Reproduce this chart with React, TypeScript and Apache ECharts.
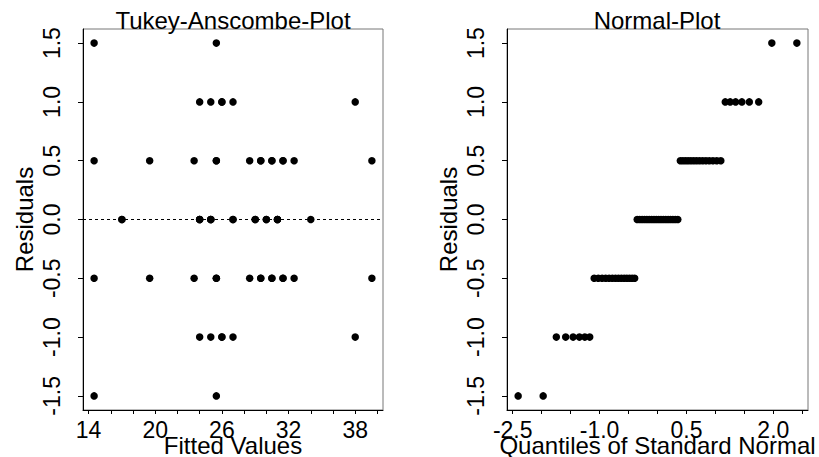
import React, { useEffect, useRef } from "react";
import * as echarts from "echarts";

// Fitted values and residuals of the 62 observations (some coincide on screen).
const fittedValues = [
  14.5, 25.5,
  24, 25, 26, 26, 27, 38,
  14.5, 19.5, 23.5, 25.5, 25.5, 28.5, 29.5, 29.5, 30.5, 30.5, 31.5, 31.5, 32.5, 39.5,
  17, 17, 24, 24, 24, 25, 25, 25, 27, 27, 29, 29, 30, 30, 31, 31, 31, 34,
  14.5, 19.5, 23.5, 25.5, 25.5, 28.5, 29.5, 29.5, 30.5, 30.5, 31.5, 31.5, 32.5, 39.5,
  24, 25, 26, 26, 27, 38,
  14.5, 25.5,
];
const residuals = [
  1.5, 1.5,
  1, 1, 1, 1, 1, 1,
  0.5, 0.5, 0.5, 0.5, 0.5, 0.5, 0.5, 0.5, 0.5, 0.5, 0.5, 0.5, 0.5, 0.5,
  0, 0, 0, 0, 0, 0, 0, 0, 0, 0, 0, 0, 0, 0, 0, 0, 0, 0,
  -0.5, -0.5, -0.5, -0.5, -0.5, -0.5, -0.5, -0.5, -0.5, -0.5, -0.5, -0.5, -0.5, -0.5,
  -1, -1, -1, -1, -1, -1,
  -1.5, -1.5,
];

// Tick marks and labelled ticks of the axes
const residualTicks = [-1.5, -1.0, -0.5, 0.0, 0.5, 1.0, 1.5];
const fittedTicks = [14, 16, 18, 20, 22, 24, 26, 28, 30, 32, 34, 36, 38, 40];
const fittedLabels = [14, 20, 26, 32, 38];
const quantileTicks = [-2.5, -2.0, -1.5, -1.0, -0.5, 0.0, 0.5, 1.0, 1.5, 2.0, 2.5];
const quantileLabels = [-2.5, -1.0, 0.5, 2.0];

const FONT = "Liberation Sans, Arial, Helvetica, sans-serif";

// Inverse of the standard normal CDF (Acklam's rational approximation)
function qnorm(p: number): number {
  const a = [-3.969683028665376e1, 2.209460984245205e2, -2.759285104469687e2, 1.38357751867269e2, -3.066479806614716e1, 2.506628277459239];
  const b = [-5.447609879822406e1, 1.615858368580409e2, -1.556989798598866e2, 6.680131188771972e1, -1.328068155288572e1];
  const c = [-7.784894002430293e-3, -3.223964580411365e-1, -2.400758277161838, -2.549732539343734, 4.374664141464968, 2.938163982698783];
  const d = [7.784695709041462e-3, 3.224671290700398e-1, 2.445134137142996, 3.754408661907416];
  const pl = 0.02425;
  if (p < pl) {
    const q = Math.sqrt(-2 * Math.log(p));
    return (((((c[0] * q + c[1]) * q + c[2]) * q + c[3]) * q + c[4]) * q + c[5]) /
      ((((d[0] * q + d[1]) * q + d[2]) * q + d[3]) * q + 1);
  }
  if (p > 1 - pl) {
    const q = Math.sqrt(-2 * Math.log(1 - p));
    return -(((((c[0] * q + c[1]) * q + c[2]) * q + c[3]) * q + c[4]) * q + c[5]) /
      ((((d[0] * q + d[1]) * q + d[2]) * q + d[3]) * q + 1);
  }
  const q = p - 0.5;
  const r = q * q;
  return (((((a[0] * r + a[1]) * r + a[2]) * r + a[3]) * r + a[4]) * r + a[5]) * q /
    (((((b[0] * r + b[1]) * r + b[2]) * r + b[3]) * r + b[4]) * r + 1);
}

// Axis range widened by 4% on both sides
function paddedRange(values: number[]): [number, number] {
  const lo = Math.min(...values);
  const hi = Math.max(...values);
  const pad = (hi - lo) * 0.04;
  return [lo - pad, hi + pad];
}

const fmt1 = (v: number | string) => Number(v).toFixed(1);

export default function App() {
  const ref = useRef<HTMLDivElement>(null);

  useEffect(() => {
    if (!ref.current) return;
    const chart = echarts.init(ref.current, undefined, { renderer: "svg" });

    const n = residuals.length;
    const sorted = [...residuals].sort((x, y) => x - y);
    const normalPoints = sorted.map((r, i) => [qnorm((i + 0.5) / n), r]);
    const tukeyPoints = fittedValues.map((f, i) => [f, residuals[i]]);

    const [fMin, fMax] = paddedRange(fittedValues);
    const [rMin, rMax] = paddedRange(residuals);
    const [qMin, qMax] = paddedRange(normalPoints.map((p) => p[0]));

    const labelStyle = { fontFamily: FONT, fontSize: 23, color: "#000" };
    const nameStyle = { fontFamily: FONT, fontSize: 24, color: "#000" };
    const lineBlack = { color: "#000", width: 1 };

    const xAxisBase = (gridIndex: number, min: number, max: number, ticks: number[], labels: number[], name: string, formatter: (v: any) => string) => ({
      type: "value",
      gridIndex,
      min,
      max,
      name,
      nameLocation: "middle",
      nameGap: 23,
      nameMoveOverlap: false,
      nameTextStyle: nameStyle,
      axisLine: { show: true, onZero: false, lineStyle: lineBlack },
      axisTick: { show: true, length: 4, customValues: ticks, lineStyle: lineBlack },
      axisLabel: { ...labelStyle, customValues: labels, margin: 8, formatter },
      splitLine: { show: false },
    });

    const yAxisBase = (gridIndex: number) => ({
      type: "value",
      gridIndex,
      min: rMin,
      max: rMax,
      name: "Residuals",
      nameLocation: "middle",
      nameGap: 47,
      nameMoveOverlap: false,
      nameTextStyle: { ...nameStyle, align: "center", verticalAlign: "bottom" },
      axisLine: { show: true, onZero: false, lineStyle: lineBlack },
      axisTick: { show: true, length: 5, customValues: residualTicks, lineStyle: lineBlack },
      axisLabel: {
        ...labelStyle,
        customValues: residualTicks,
        rotate: 90,
        align: "center",
        verticalAlign: "bottom",
        margin: 20,
        formatter: fmt1,
      },
      splitLine: { show: false },
    });

    const dot = { color: "#000", opacity: 1 };

    chart.setOption({
      animation: false,
      backgroundColor: "#fff",
      title: [
        { text: "Tukey-Anscombe-Plot", left: 233, top: 8, padding: 0, textAlign: "center", textStyle: { ...nameStyle, fontWeight: "normal" } },
        { text: "Normal-Plot", left: 657, top: 8, padding: 0, textAlign: "center", textStyle: { ...nameStyle, fontWeight: "normal" } },
      ],
      grid: [
        { left: 83, top: 29, width: 300, height: 381, outerBoundsMode: "none", containLabel: false, show: true, borderColor: "#777", borderWidth: 1, backgroundColor: "transparent" },
        { left: 507, top: 29, width: 301, height: 381, outerBoundsMode: "none", containLabel: false, show: true, borderColor: "#777", borderWidth: 1, backgroundColor: "transparent" },
      ],
      xAxis: [
        xAxisBase(0, fMin, fMax, fittedTicks, fittedLabels, "Fitted Values", (v: any) => String(v)),
        xAxisBase(1, qMin, qMax, quantileTicks, quantileLabels, "Quantiles of Standard Normal", fmt1),
      ],
      yAxis: [yAxisBase(0), yAxisBase(1)],
      series: [
        {
          type: "scatter",
          xAxisIndex: 0,
          yAxisIndex: 0,
          data: tukeyPoints,
          symbol: "circle",
          symbolSize: 7.5,
          itemStyle: dot,
          markLine: {
            silent: true,
            symbol: "none",
            label: { show: false },
            lineStyle: { color: "#000", width: 1, type: [3, 3] },
            data: [{ yAxis: 0 }],
          },
        },
        {
          type: "scatter",
          xAxisIndex: 1,
          yAxisIndex: 1,
          data: normalPoints,
          symbol: "circle",
          symbolSize: 7.5,
          itemStyle: dot,
        },
      ],
    });

    return () => chart.dispose();
  }, []);

  return (
    <div
      ref={ref}
      style={{ position: "fixed", left: 0, top: 0, width: 819, height: 457, background: "#fff" }}
    />
  );
}
